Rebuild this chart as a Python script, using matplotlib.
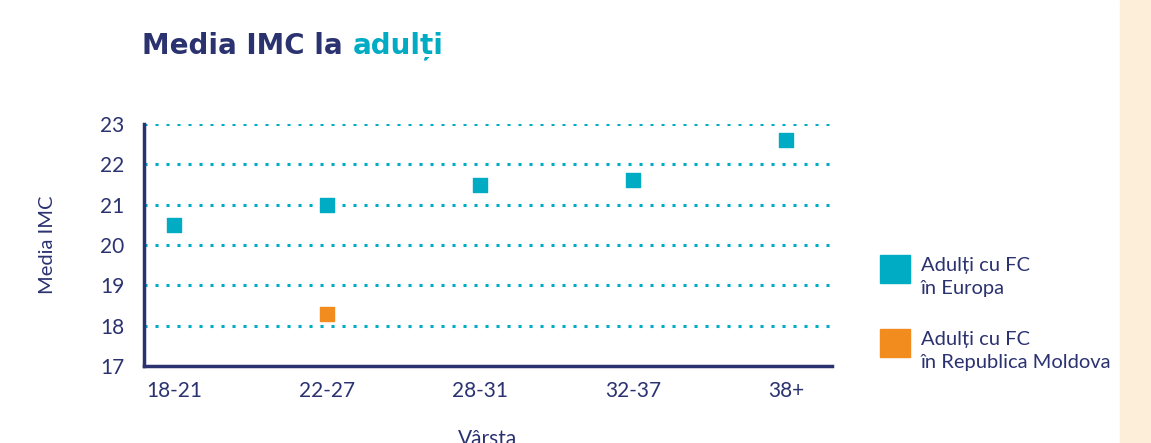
import matplotlib.pyplot as plt
from matplotlib.patches import Rectangle

# data
categories = ['18-21', '22-27', '28-31', '32-37', '38+']
europe = [20.5, 21.0, 21.5, 21.6, 22.6]
moldova_cat = ['22-27']
moldova = [18.3]
yticks = [17, 18, 19, 20, 21, 22, 23]

navy = '#2b3270'
teal = '#00abc4'
orange = '#f28c1e'

plt.rcParams['font.family'] = ['Lato', 'DejaVu Sans']

fig = plt.figure(figsize=(11.51, 4.43), dpi=100)
# peach band at right edge
fig.patches.append(Rectangle((1120 / 1151, 0), 31 / 1151, 1, transform=fig.transFigure,
                             color='#fdeed9', zorder=0))

ax = fig.add_axes([144 / 1151, 1 - 366 / 443, (832 - 144) / 1151, (366 - 124) / 443])
ax.patch.set_alpha(0)

xs = range(len(categories))
ax.scatter(xs, europe, marker='s', s=105, color=teal, zorder=3)
mx = [categories.index(c) for c in moldova_cat]
ax.scatter(mx, moldova, marker='s', s=105, color=orange, zorder=3)

for y in yticks[1:]:
    ax.axhline(y, color=teal, linestyle=(0, (1, 2.6)), linewidth=2.2, zorder=1)

ax.set_xlim(-0.196, 4.3)
ax.set_ylim(17, 23)
ax.set_yticks(yticks)
ax.set_xticks(list(xs))
ax.set_xticklabels(categories)

for s in ['top', 'right']:
    ax.spines[s].set_visible(False)
for s in ['left', 'bottom']:
    ax.spines[s].set_color(navy)
    ax.spines[s].set_linewidth(2.5)
ax.tick_params(length=0, colors=navy, labelsize=15)
ax.tick_params(axis='y', pad=14)
ax.tick_params(axis='x', pad=11)

ax.set_ylabel('Media IMC', color=navy, fontsize=14.5, labelpad=32)
ax.set_xlabel('Vârsta', color=navy, fontsize=15, labelpad=20)

# title in two colours
t1 = fig.text(142 / 1151, 1 - 46 / 443, 'Media IMC la ', color=navy, fontsize=20,
              fontweight='bold', va='center', ha='left', family='DejaVu Sans')
fig.canvas.draw()
bb = t1.get_window_extent()
fig.text(bb.x1 / fig.bbox.width, 1 - 46 / 443, 'adulți', color=teal, fontsize=20,
         fontweight='bold', va='center', ha='left', family='DejaVu Sans')

# legend
for (yc, col, lab) in [(269, teal, 'Adulți cu FC\nîn Europa'),
                       (343, orange, 'Adulți cu FC\nîn Republica Moldova')]:
    fig.patches.append(Rectangle((880 / 1151, 1 - (yc + 14) / 443), 30 / 1151, 28 / 443,
                                 transform=fig.transFigure, color=col))
    fig.text(921 / 1151, 1 - (yc + 8) / 443, lab, color=navy, fontsize=14.5,
             va='center', ha='left', linespacing=1.45)

fig.savefig('out.png', dpi=100)
